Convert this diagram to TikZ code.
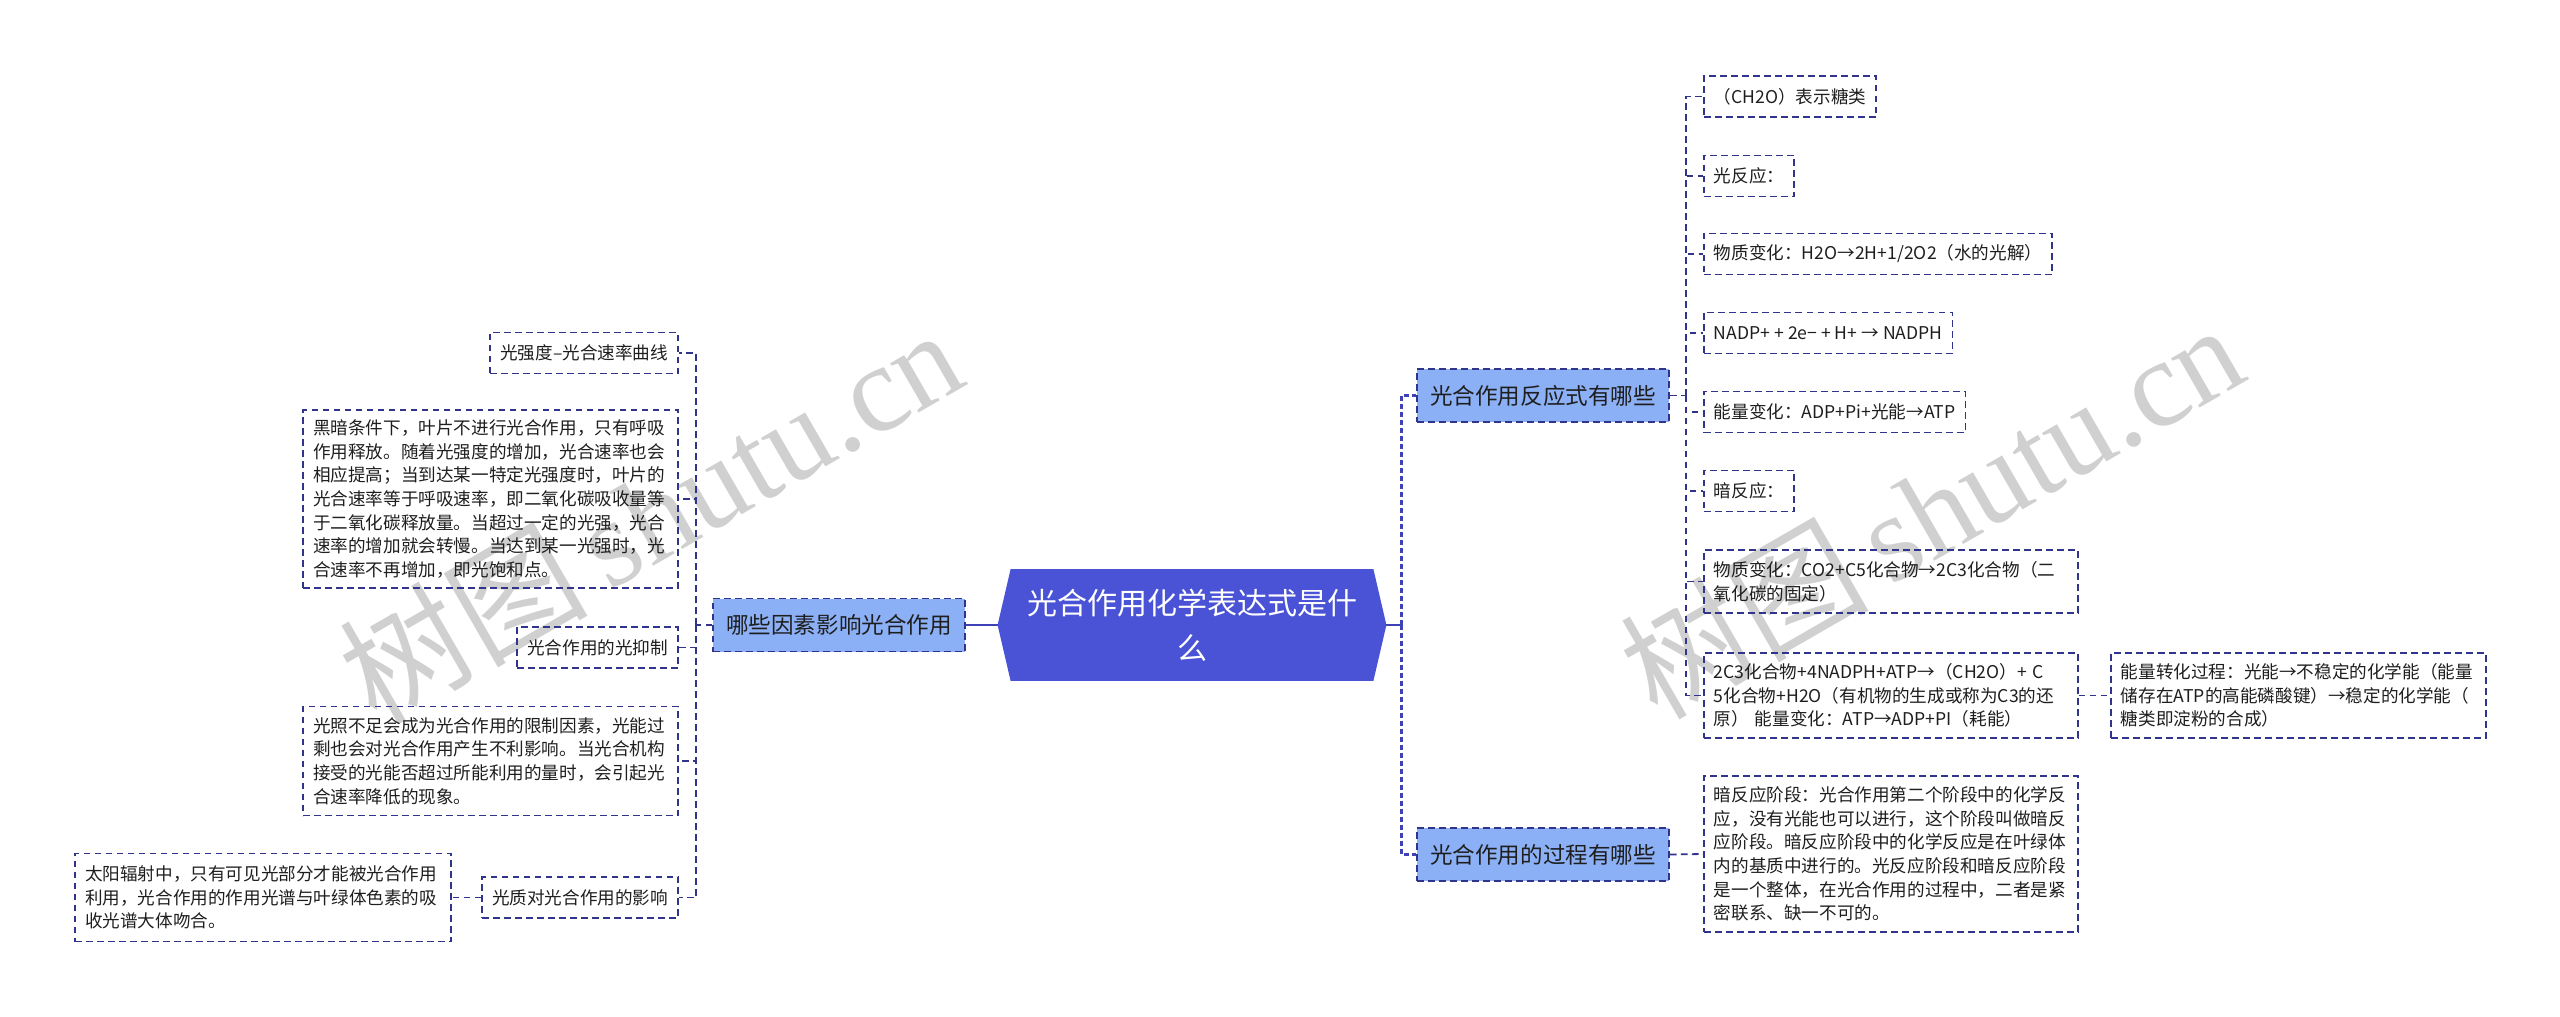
\documentclass[tikz,border=0pt]{standalone}
\usepackage{fontspec}
\setmainfont{Noto Sans CJK SC}
\newfontfamily\wmlatin{Liberation Serif}
\usetikzlibrary{backgrounds}
\definecolor{navy}{RGB}{48,52,138}
\definecolor{busc}{RGB}{62,66,180}
\definecolor{lvlone}{RGB}{140,176,245}
\definecolor{hexc}{RGB}{74,83,214}
\definecolor{wmc}{RGB}{208,208,208}
\definecolor{txt}{RGB}{30,30,30}
\tikzset{
  leaf/.style={draw=navy, line width=0.9pt, dash pattern=on 3.3pt off 2.2pt,
    inner xsep=5pt, inner ysep=0pt, minimum height=20.5pt, text=txt,
    font=\fontsize{8.8pt}{11.85pt}\selectfont},
  leafbox/.style n args={2}{leaf, align=left, text width=#1-10pt, minimum height=#2},
  lvl/.style={draw=navy, fill=lvlone, line width=0.9pt, dash pattern=on 3.3pt off 2.2pt,
    minimum width=126pt, minimum height=26.5pt, inner sep=0pt, text=txt,
    font=\fontsize{11.3pt}{13pt}\selectfont},
  hexnode/.style={minimum width=194pt, minimum height=55.5pt, inner sep=0pt,
    align=center, text=white, font=\fontsize{15pt}{22.5pt}\selectfont},
  conn/.style={draw=navy, line width=0.9pt, dash pattern=on 3.3pt off 2.2pt},
  mainconn/.style={draw=busc, line width=1.3pt, dash pattern=on 2.5pt off 1.5pt},
  solidconn/.style={draw=busc, line width=1.3pt},
  wm/.style={text=wmc, rotate=30, inner sep=0pt, font=\fontsize{62pt}{62pt}\selectfont},
}
\begin{document}
\begin{tikzpicture}[x=0.5pt,y=-0.5pt]
\useasboundingbox (0,0) rectangle (2560,1017);
% watermarks
\node[wm] (wm1) at (650,514) {树图\,{\wmlatin shutu.cn}};
\node[wm] (wm2) at (1931,509) {树图\,{\wmlatin shutu.cn}};

% centre
\node[hexnode] (c) at (1192,625) {光合作用化学表达式是什\\么};
\begin{scope}[on background layer]
\fill[hexc] (c.west) -- ([xshift=6.5pt]c.north west) -- ([xshift=-6.5pt]c.north east)
  -- (c.east) -- ([xshift=-6.5pt]c.south east) -- ([xshift=6.5pt]c.south west) -- cycle;
\end{scope}

% level one
\node[lvl] (q) at (839,625) {哪些因素影响光合作用};
\node[lvl] (A) at (1543,395.5) {光合作用反应式有哪些};
\node[lvl] (B) at (1543,854.5) {光合作用的过程有哪些};

% left leaves
\node[leaf,anchor=east] (l1) at (679,353) {光强度–光合速率曲线};
\node[leafbox={187.5pt}{89pt},anchor=east] (l2) at (679,499) {黑暗条件下，叶片不进行光合作用，只有呼吸\\作用释放。随着光强度的增加，光合速率也会\\相应提高；当到达某一特定光强度时，叶片的\\光合速率等于呼吸速率，即二氧化碳吸收量等\\于二氧化碳释放量。当超过一定的光强，光合\\速率的增加就会转慢。当达到某一光强时，光\\合速率不再增加，即光饱和点。};
\node[leaf,anchor=east] (l3) at (679,647.5) {光合作用的光抑制};
\node[leafbox={187.5pt}{54.5pt},anchor=east] (l4) at (679,761) {光照不足会成为光合作用的限制因素，光能过\\剩也会对光合作用产生不利影响。当光合机构\\接受的光能否超过所能利用的量时，会引起光\\合速率降低的现象。};
\node[leaf,anchor=east] (l5) at (679,897.5) {光质对光合作用的影响};
\node[leafbox={188pt}{44pt},anchor=east] (l6) at (452,897.5) {太阳辐射中，只有可见光部分才能被光合作用\\利用，光合作用的作用光谱与叶绿体色素的吸\\收光谱大体吻合。};

% right leaves
\node[leaf,anchor=west] (r1) at (1703,96.5) {（CH2O）表示糖类};
\node[leaf,anchor=west] (r2) at (1703,176) {光反应：};
\node[leaf,anchor=west] (r3) at (1703,254) {物质变化：H2O→2H+1/2O2（水的光解）};
\node[leaf,anchor=west] (r4) at (1703,333) {NADP+ + 2e− + H+ → NADPH};
\node[leaf,anchor=west] (r5) at (1703,412) {能量变化：ADP+Pi+光能→ATP};
\node[leaf,anchor=west] (r6) at (1703,491) {暗反应：};
\node[leafbox={187pt}{31.5pt},anchor=west] (r7) at (1703,581.5) {物质变化：CO2+C5化合物→2C3化合物（二\\氧化碳的固定）};
\node[leafbox={187pt}{42.5pt},anchor=west] (r8) at (1703,695.5) {2C3化合物+4NADPH+ATP→（CH2O）+ C\\5化合物+H2O（有机物的生成或称为C3的还\\原） 能量变化：ATP→ADP+PI（耗能）};
\node[leafbox={187.5pt}{42.5pt},anchor=west] (r9) at (2110,695.5) {能量转化过程：光能→不稳定的化学能（能量\\储存在ATP的高能磷酸键）→稳定的化学能（\\糖类即淀粉的合成）};
\node[leafbox={187pt}{78pt},anchor=west] (r10) at (1703,854) {暗反应阶段：光合作用第二个阶段中的化学反\\应，没有光能也可以进行，这个阶段叫做暗反\\应阶段。暗反应阶段中的化学反应是在叶绿体\\内的基质中进行的。光反应阶段和暗反应阶段\\是一个整体，在光合作用的过程中，二者是紧\\密联系、缺一不可的。};

% bus points
\coordinate (lb) at (696,625);
\coordinate (rb) at (1401.5,625);
\coordinate (ab) at (1686,395.5);

% connectors
\draw[solidconn] (c.west) -- (q.east);
\draw[conn] (q.west) -- (lb);
\foreach \n in {l1,l2,l3,l4,l5} \draw[conn] (lb) |- (\n.east);
\draw[conn] (l5.west) -- (l6.east);

\draw[solidconn] (c.east) -- (rb);
\draw[mainconn] (rb) |- (A.west);
\draw[mainconn] (rb) |- (B.west);
\draw[conn] (A.east) -- (ab);
\foreach \n in {r1,r2,r3,r4,r5,r6,r7,r8} \draw[conn] (ab) |- (\n.west);
\draw[conn] (r8.east) -- (r9.west);
\draw[conn] (B.east) -- (r10.west);
\end{tikzpicture}
\end{document}
